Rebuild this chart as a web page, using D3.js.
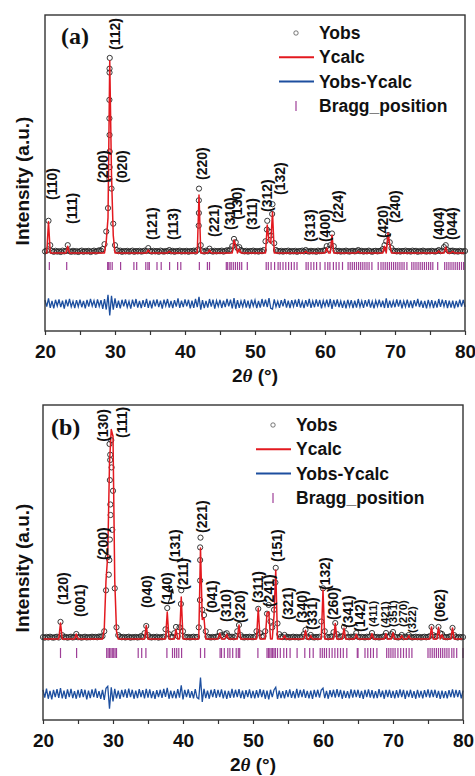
<!DOCTYPE html>
<html>
<head>
<meta charset="utf-8">
<script src="https://cdn.jsdelivr.net/npm/d3@7"></script>
<style>
  body { margin: 0; background: #fff; }
  svg text { font-family: "Liberation Sans", Arial, sans-serif; font-weight: bold; fill: #111; }
</style>
</head>
<body>
<svg id="chart" width="475" height="776"></svg>
<script>
// XRD scan: start angle and step (degrees 2theta)
const startDeg = 20, stepDeg = 0.25;
const xTicks = [20, 30, 40, 50, 60, 70, 80];
const xMinorTicks = [25, 35, 45, 55, 65, 75];

// panel (a) observed intensity, one value per step
const obsA = [
  8, 12, 165, 40, 10, 6, 11, 7, 9, 5, 12, 8, 10, 40, 9, 6, 11, 7, 10, 5,
  9, 12, 6, 10, 8, 11, 5, 9, 12, 7, 10, 14, 12, 20, 45, 110, 230, 1000, 330, 150,
  40, 15, 9, 12, 6, 10, 8, 11, 7, 9, 12, 6, 10, 8, 11, 7, 9, 12, 10, 25,
  10, 7, 11, 8, 10, 6, 12, 9, 7, 10, 9, 15, 8, 11, 6, 10, 9, 12, 7, 10,
  8, 11, 6, 10, 9, 12, 7, 15, 330, 40, 10, 7, 12, 9, 22, 10, 7, 11, 8, 10,
  9, 12, 7, 10, 14, 11, 18, 35, 72, 55, 25, 30, 15, 10, 8, 11, 7, 10, 9, 12,
  8, 10, 7, 11, 9, 15, 60, 165, 110, 90, 250, 50, 15, 10, 8, 11, 7, 10, 9, 12,
  7, 10, 8, 11, 6, 10, 9, 12, 8, 15, 9, 7, 11, 8, 10, 6, 12, 9, 10, 12,
  14, 35, 20, 40, 100, 35, 12, 9, 11, 7, 10, 8, 12, 9, 7, 10, 11, 8, 10, 15,
  9, 11, 7, 10, 8, 12, 9, 6, 10, 11, 8, 10, 12, 20, 40, 60, 92, 55, 25, 12,
  10, 8, 11, 7, 10, 9, 12, 8, 10, 7, 12, 9, 11, 6, 10, 8, 12, 9, 7, 10,
  8, 11, 9, 7, 10, 15, 9, 12, 30, 40, 15, 9, 11, 12, 8, 10, 7, 11, 9, 8,
  10
];
// extra observed points on steep peak flanks [2theta, intensity]
const obsFlankA = [[29.22, 945], [29.22, 925], [29.2, 785], [29.2, 690], [29.22, 605], [29.24, 520],
  [29.24, 440], [29.2, 380], [41.98, 270], [41.98, 205], [41.96, 140], [52.45, 200], [51.7, 120]];
// panel (a) calculated peaks [2theta, intensity above background]
const calcPeaksA = [[20.5, 160], [23.25, 35], [28.75, 60], [29.0, 180], [29.25, 985], [29.5, 400], [29.75, 90],
  [34.75, 15], [37.75, 8], [42.0, 297], [43.5, 15], [47.0, 67], [47.25, 40], [47.75, 20], [51.75, 143],
  [52.0, 60], [52.25, 50], [52.5, 210], [57.25, 8], [60.25, 25], [61.0, 92], [64.75, 8], [68.5, 35],
  [69.0, 102], [69.25, 45], [76.25, 10], [77.25, 30], [78.25, 8]];
// panel (a) Yobs - Ycalc, one value per step
const diffA = [
  18, -15, 27, -21, 14, -24, 20, -12, 22, -18, 15, -25, 21, -14, 24, -16, 12, -22, 18, -15,
  21, -18, 14, -24, 20, -15, 25, -12, 16, -21, 22, -14, 18, -27, 24, -30, 45, -60, 40, -30,
  27, -21, 15, -24, 20, -14, 22, -18, 12, -25, 21, -15, 24, -20, 14, -22, 18, -16, 25, -21,
  15, -24, 20, -14, 22, -18, 16, -25, 21, -12, 24, -20, 14, -22, 18, -15, 27, -21, 16, -18,
  22, -14, 20, -24, 15, -21, 25, -18, 35, -30, 18, -22, 14, -20, 24, -15, 21, -25, 16, -14,
  20, -22, 15, -18, 25, -14, 21, -24, 28, -26, 18, -21, 14, -16, 22, -20, 15, -24, 21, -12,
  18, -22, 14, -20, 24, -15, 21, -18, 28, -24, -28, 22, -16, 12, -21, 18, -14, 24, -20, 15,
  -22, 18, -14, 21, -16, 24, -20, 12, -22, 18, -15, 25, -21, 14, -18, 22, -15, 20, -24, 16,
  -14, 21, -18, 24, -27, 20, -15, 22, -18, 14, -21, 16, -24, 20, -14, 18, -22, 15, -20, 24,
  -16, 14, -21, 18, -15, 22, -20, 12, -24, 16, -14, 21, -18, 15, -22, 27, -21, 16, -20, 14,
  -18, 22, -15, 20, -24, 14, -16, 21, -20, 15, -22, 18, -14, 24, -18, 16, -21, 14, -24, 20,
  -15, 18, -22, 14, -20, 24, -16, 21, -14, 18, -22, 15, -20, 16, -24, 14, -18, 21, -15, 20,
  -16
];
const braggA = [20.62, 23.1, 28.95, 29.1, 29.3, 29.6, 30.8, 32.7, 33.1, 34.4, 34.7, 34.9, 36.0, 36.6, 37.8,
  38.95, 39.4, 42.05, 43.2, 43.5, 45.9, 46.1, 46.4, 46.6, 46.9, 47.2, 47.5, 47.8, 48.1, 48.9, 51.6, 51.9,
  52.3, 52.8, 53.3, 53.6, 54.0, 54.4, 54.8, 55.2, 55.6, 56.0, 57.3, 57.6, 58.0, 58.4, 58.8, 59.3, 60.0,
  60.4, 60.7, 61.2, 61.6, 62.0, 62.5, 63.3, 63.6, 63.9, 64.2, 64.5, 64.8, 65.1, 65.4, 65.7, 66.0, 66.3,
  66.7, 67.6, 68.0, 68.3, 68.6, 68.9, 69.2, 69.5, 69.8, 70.1, 70.4, 70.7, 71.0, 71.3, 71.7, 72.4, 72.7,
  73.0, 73.3, 73.6, 73.9, 74.2, 74.5, 74.8, 75.1, 75.4, 76.1, 77.1, 77.4, 77.7, 78.0, 78.3, 78.6, 78.9,
  79.2, 79.5, 79.8];
// reflections [hkl, 2theta of label, intensity level where label starts]
const hklA = [['(110)', 21.0, 272], ['(111)', 23.8, 149], ['(200)', 28.3, 359], ['(020)', 31.0, 359],
  ['(112)', 30.0, 1041], ['(121)', 35.3, 66], ['(113)', 38.3, 66], ['(220)', 42.4, 374], ['(221)', 44.1, 82],
  ['(310)', 46.4, 118], ['(130)', 47.4, 170], ['(311)', 49.6, 118], ['(312)', 51.7, 210], ['(132)', 53.6, 297],
  ['(313)', 57.9, 56], ['(400)', 60.0, 56], ['(224)', 61.9, 154], ['(420)', 68.3, 77], ['(240)', 70.0, 154],
  ['(404)', 76.3, 66], ['(044)', 78.1, 66]];

// panel (b)
const obsB = [
  10, 7, 11, 8, 12, 9, 7, 10, 12, 8, 88, 20, 9, 11, 7, 10, 12, 8, 10, 26,
  9, 11, 7, 10, 12, 8, 10, 9, 12, 10, 11, 9, 13, 12, 15, 40, 250, 420, 1000, 1020,
  760, 260, 60, 20, 12, 9, 11, 8, 10, 12, 7, 10, 9, 11, 8, 10, 15, 10, 30, 67,
  20, 10, 8, 11, 9, 12, 7, 10, 9, 12, 50, 159, 25, 10, 12, 30, 62, 15, 60, 250,
  40, 12, 9, 11, 8, 10, 12, 9, 11, 60, 520, 150, 123, 40, 12, 10, 8, 11, 9, 12,
  14, 36, 20, 12, 25, 30, 15, 10, 12, 9, 14, 40, 72, 20, 10, 8, 11, 9, 12, 10,
  9, 12, 40, 155, 30, 12, 15, 40, 130, 175, 90, 60, 150, 365, 80, 25, 12, 10, 21, 9,
  11, 8, 10, 12, 9, 11, 8, 10, 12, 25, 47, 12, 9, 21, 10, 8, 11, 9, 12, 90,
  260, 40, 12, 9, 11, 14, 35, 82, 25, 10, 12, 15, 62, 30, 11, 9, 12, 10, 14, 31,
  12, 9, 11, 10, 8, 12, 10, 14, 31, 12, 9, 11, 8, 10, 12, 15, 31, 12, 14, 25,
  36, 12, 10, 8, 11, 21, 9, 12, 10, 21, 11, 8, 10, 12, 9, 11, 8, 10, 12, 9,
  11, 15, 62, 20, 12, 15, 62, 30, 26, 12, 10, 9, 12, 15, 57, 20, 10, 8, 11, 9,
  10
];
const obsFlankB = [[29.6, 945], [29.6, 918], [29.55, 815], [29.62, 690], [29.66, 636], [29.55, 510],
  [29.48, 405], [29.4, 330], [29.8, 880], [29.9, 560], [42.45, 470], [42.45, 405], [42.45, 300],
  [42.42, 200], [53.2, 290], [39.7, 180]];
const calcPeaksB = [[22.5, 82], [24.75, 26], [28.75, 50], [29.0, 300], [29.25, 430], [29.5, 900], [29.75, 1075],
  [30.0, 1040], [30.25, 300], [30.5, 40], [34.75, 70], [37.75, 139], [39.0, 50], [39.75, 215], [42.5, 467],
  [42.75, 100], [43.0, 108], [45.25, 30], [46.25, 25], [48.0, 72], [50.75, 159], [52.0, 134], [52.25, 140],
  [53.0, 120], [53.25, 354], [54.5, 18], [57.5, 45], [58.25, 18], [60.0, 252], [61.75, 80], [63.0, 55],
  [64.75, 25], [67.0, 28], [69.0, 28], [70.0, 32], [71.25, 18], [72.25, 18], [75.5, 62], [76.5, 60],
  [77.0, 22], [78.5, 57]];
const diffB = [
  22, -18, 28, -24, 16, -27, 21, -15, 25, -20, 30, -22, 18, -25, 24, -16, 27, -21, 15, -24,
  21, -18, 25, -15, 22, -27, 18, -21, 24, -16, 28, -20, 15, -25, 22, -30, 30, 40, -75, 35,
  -38, 27, -22, 18, -25, 21, -15, 24, -20, 28, -16, 22, -24, 18, -21, 25, -15, 20, -22, 27,
  -18, 24, -21, 15, -25, 20, -16, 22, -20, 27, -15, 32, -24, 18, -21, 16, -22, 25, -18, 45,
  -27, 21, -16, 24, -20, 15, -22, 25, -18, -24, 85, -40, 27, -21, 18, -24, 22, -16, 25, -20,
  21, -15, 24, -22, 18, -25, 16, -20, 27, -18, 22, -15, 25, -21, 18, -24, 20, -16, 24, -21,
  16, -22, 20, -18, 25, -15, 21, -24, 18, -27, 22, -16, 21, 35, -25, 18, -21, 15, -22, 20,
  -16, 24, -20, 15, -22, 27, -18, 21, -15, 24, -20, 16, -22, 18, -25, 21, -15, 22, -18, 20,
  30, -21, 16, -24, 20, -15, 22, -18, 25, -16, 21, -24, 18, -20, 15, -22, 24, -18, 21, -15,
  22, -20, 16, -25, 21, -15, 24, -18, 20, -22, 15, -21, 25, -16, 18, -24, 21, -15, 22, -20,
  16, -22, 20, -18, 24, -15, 21, -25, 18, -16, 22, -20, 15, -24, 21, -18, 16, -22, 20, -15,
  24, -18, 21, -15, 22, -20, 16, -25, 18, -21, 15, -22, 20, -16, 24, -18, 21, -15, 20, -22,
  18
];
const braggB = [22.5, 24.8, 29.1, 29.3, 29.5, 29.7, 29.9, 30.1, 30.3, 30.5, 33.6, 34.1, 34.7, 37.7, 38.5,
  38.8, 39.1, 39.4, 39.8, 42.5, 43.1, 45.3, 45.5, 45.9, 46.4, 46.7, 47.1, 47.6, 47.9, 48.1, 50.7, 52.0,
  52.2, 52.4, 52.6, 52.8, 53.0, 53.2, 53.5, 53.9, 54.4, 54.8, 55.3, 56.3, 57.4, 58.1, 58.6, 59.6, 59.9,
  60.2, 60.5, 60.9, 61.3, 61.7, 62.1, 62.5, 62.9, 63.4, 64.9, 65.0, 66.0, 66.4, 66.8, 67.2, 67.7, 69.1,
  69.4, 69.7, 70.0, 70.3, 70.7, 71.1, 71.5, 71.9, 72.3, 72.7, 75.0, 75.3, 75.6, 75.9, 76.2, 76.5, 76.8,
  77.1, 77.4, 77.7, 78.0, 78.4, 78.7, 79.1, 80.0];
const hklB = [['(120)', 22.9, 175], ['(001)', 25.3, 113], ['(200)', 28.6, 405], ['(130)', 28.6, 1011],
  ['(111)', 31.3, 1031], ['(040)', 34.9, 159], ['(140)', 37.7, 175], ['(131)', 38.9, 395], ['(211)', 40.0, 252],
  ['(221)', 42.7, 544], ['(041)', 44.1, 134], ['(310)', 46.1, 88], ['(320)', 48.1, 82], ['(311)', 50.7, 185],
  ['(241)', 52.3, 164], ['(151)', 53.4, 395], ['(321)', 55.0, 98], ['(340)', 57.0, 82], ['(331)', 58.4, 46],
  ['(132)', 60.3, 252], ['(260)', 61.4, 98], ['(341)', 63.6, 57], ['(142)', 65.3, 36], ['(411)', 67.1, 62],
  ['(421)', 68.9, 57], ['(351)', 70.0, 62], ['(270)', 71.4, 62], ['(322)', 72.7, 31], ['(062)', 76.7, 88]];
const smallHklB = ['(411)', '(421)', '(351)', '(270)', '(322)'];

const legendNames = ['Yobs', 'Ycalc', 'Yobs-Ycalc', 'Bragg_position'];

const RED = '#e3191f', BLUE = '#1d4f9f', PURPLE = '#9e3f98';
const svg = d3.select('#chart');

const drawPanel = (p) => {
  const g = svg.append('g');
  const x = d3.scaleLinear().domain([20, 80]).range([p.left, p.right]);
  const y = d3.scaleLinear().domain(p.yDomain).range([p.bottom, p.top]);
  const grid = p.obs.map((d, i) => startDeg + i * stepDeg);
  const calcMap = new Map(p.calcPeaks.map(d => [Math.round((d[0] - startDeg) / stepDeg), d[1]]));
  const calc = grid.map((t, i) => calcMap.get(i) || 0);

  // Yobs circles
  const obsPts = grid.map((t, i) => [t, p.obs[i]]).concat(p.flank);
  g.append('g').selectAll('circle').data(obsPts).join('circle')
    .attr('cx', d => x(d[0]))
    .attr('cy', d => y(d[1]))
    .attr('r', 2.6)
    .attr('fill', 'none')
    .attr('stroke', '#222')
    .attr('stroke-width', 0.9);

  // Ycalc
  g.append('path')
    .datum(calc)
    .attr('fill', 'none')
    .attr('stroke', RED)
    .attr('stroke-width', 1.5)
    .attr('stroke-linejoin', 'round')
    .attr('d', d3.line().x((d, i) => x(grid[i])).y(d => y(d)));

  // Bragg positions
  g.append('g').selectAll('line').data(p.bragg).join('line')
    .attr('x1', d => x(d)).attr('x2', d => x(d))
    .attr('y1', y(p.braggRange[0])).attr('y2', y(p.braggRange[1]))
    .attr('stroke', PURPLE)
    .attr('stroke-width', 1.2);

  // difference curve
  g.append('path')
    .datum(p.diff)
    .attr('fill', 'none')
    .attr('stroke', BLUE)
    .attr('stroke-width', 1.3)
    .attr('d', d3.line().x((d, i) => x(grid[i])).y(d => y(d + p.diffOffset)));

  // axis
  const axisG = g.append('g').attr('transform', `translate(0,${p.bottom})`);
  axisG.call(d3.axisBottom(x).tickValues(xTicks).tickSize(4).tickSizeOuter(0).tickPadding(p.tickPad));
  axisG.select('.domain').remove();
  axisG.selectAll('.tick line').attr('stroke', '#333').attr('stroke-width', 1.2);
  axisG.selectAll('.tick text').style('font-size', '19px').style('font-weight', 'bold')
    .style('font-family', '"Liberation Sans", Arial, sans-serif').attr('fill', '#111');
  const minorG = g.append('g').attr('transform', `translate(0,${p.bottom})`);
  minorG.call(d3.axisBottom(x).tickValues(xMinorTicks).tickSize(4).tickFormat(''));
  minorG.select('.domain').remove();
  minorG.selectAll('.tick line').attr('stroke', '#333').attr('stroke-width', 1.2);

  g.append('rect')
    .attr('x', p.left).attr('y', p.top)
    .attr('width', p.right - p.left).attr('height', p.bottom - p.top)
    .attr('fill', 'none').attr('stroke', '#333').attr('stroke-width', 1.4);

  // axis titles
  const xl = g.append('text')
    .attr('x', (p.left + p.right) / 2).attr('y', p.xLabelY)
    .attr('text-anchor', 'middle').style('font-size', '19px');
  xl.append('tspan').text('2');
  xl.append('tspan').text('θ').style('font-family', '"Liberation Serif", serif').style('font-style', 'italic');
  xl.append('tspan').text(' (°)');

  g.append('text')
    .attr('transform', `translate(22,${p.yLabelY}) rotate(-90)`)
    .attr('text-anchor', 'middle').attr('dy', '0.35em')
    .style('font-size', '19px')
    .text('Intensity (a.u.)');

  // panel tag
  g.append('text')
    .attr('x', p.tag[1]).attr('y', p.tag[2])
    .style('font-family', '"Liberation Serif", "Times New Roman", serif')
    .style('font-size', '24px')
    .text(p.tag[0]);

  // reflection labels
  g.append('g').selectAll('text').data(p.hkl).join('text')
    .attr('transform', d => `translate(${x(d[1])},${y(d[2])}) rotate(-90)`)
    .attr('dy', '0.35em')
    .style('font-size', d => p.small.includes(d[0]) ? '11.5px' : '14px')
    .text(d => d[0]);

  // legend
  const lg = g.append('g').attr('transform', `translate(${p.legend[0]},${p.legend[1]})`);
  legendNames.forEach((name, i) => {
    const ly = i * 24.3;
    lg.append('text').attr('x', 23).attr('y', ly).attr('dy', '0.35em')
      .style('font-size', '17.5px').text(name);
    if (i === 0) {
      lg.append('circle').attr('cx', 0).attr('cy', ly).attr('r', 2.2)
        .attr('fill', 'none').attr('stroke', '#555').attr('stroke-width', 0.8);
    } else if (i === 3) {
      lg.append('line').attr('x1', 0).attr('x2', 0).attr('y1', ly - 5).attr('y2', ly + 5)
        .attr('stroke', PURPLE).attr('stroke-width', 1.2);
    } else {
      lg.append('line').attr('x1', -17).attr('x2', 18).attr('y1', ly).attr('y2', ly)
        .attr('stroke', i === 1 ? RED : BLUE).attr('stroke-width', 2);
    }
  });
  return { x, y, g };
};

drawPanel({
  left: 45, right: 465, top: 15, bottom: 331, yDomain: [-400, 1220],
  obs: obsA, flank: obsFlankA, calcPeaks: calcPeaksA, diff: diffA, diffOffset: -260,
  bragg: braggA, braggRange: [-46, -87], hkl: hklA, small: [],
  tickPad: 10, xLabelY: 382, yLabelY: 181, tag: ['(a)', 61, 44], legend: [296, 33]
});

const pb = drawPanel({
  left: 43, right: 463, top: 405, bottom: 720, yDomain: [-415, 1200],
  obs: obsB, flank: obsFlankB, calcPeaks: calcPeaksB, diff: diffB, diffOffset: -282,
  bragg: braggB, braggRange: [-46, -97], hkl: hklB, small: smallHklB,
  tickPad: 10, xLabelY: 771, yLabelY: 568, tag: ['(b)', 51, 435], legend: [273, 425]
});

// leader arrow from (140) to (131)
pb.g.append('path')
  .attr('d', `M${pb.x(37.85)},${pb.y(180)} L${pb.x(38.3)},${pb.y(230)}`)
  .attr('stroke', '#111').attr('stroke-width', 1);
pb.g.append('path')
  .attr('d', d3.symbol(d3.symbolTriangle, 14)())
  .attr('transform', `translate(${pb.x(38.4)},${pb.y(245)}) rotate(20)`)
  .attr('fill', '#111');
</script>
</body>
</html>
